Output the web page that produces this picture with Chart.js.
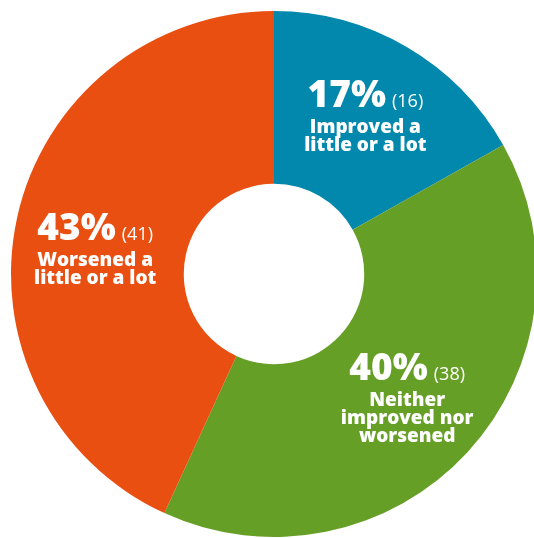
<!DOCTYPE html>
<html>
<head>
<meta charset="utf-8">
<script src="https://cdn.jsdelivr.net/npm/chart.js@4"></script>
<style>
  html, body { margin: 0; padding: 0; background: #fff; overflow: hidden; }
  .wrap { position: absolute; left: 0; top: 0; width: 548px; height: 548px; }
</style>
</head>
<body>
<div class="wrap"><canvas id="ring"></canvas></div>
<script>
// survey answers (respondent counts)
const categories = ['Improved a little or a lot', 'Neither improved nor worsened', 'Worsened a little or a lot'];
const counts = [16, 38, 41];
const percents = ['17%', '40%', '43%'];
const captions = [
    ['Improved a', 'little or a lot'],
    ['Neither', 'improved nor', 'worsened'],
    ['Worsened a', 'little or a lot']
];
const colors = ['#0287ad', '#669f26', '#e84f11'];

const FONT = '"Open Sans", "DejaVu Sans", sans-serif';

// writes the percentage, count and caption inside each slice
const sliceLabels = {
    id: 'sliceLabels',
    afterDatasetsDraw(chart, args, opts) {
        const ctx = chart.ctx;
        const meta = chart.getDatasetMeta(0);
        meta.data.forEach((arc, i) => {
            const mid = (arc.startAngle + arc.endAngle) / 2;
            const nudge = opts.nudge[i] || [0, 0];
            const cx = arc.x + Math.cos(mid) * opts.distance + nudge[0];
            const cy = arc.y + Math.sin(mid) * opts.distance + nudge[1];
            const lines = captions[i];
            const blockH = opts.bigCap + opts.firstGap + (lines.length - 1) * opts.lineGap;
            const bigBase = cy - blockH / 2 + opts.bigCap;

            ctx.save();
            ctx.fillStyle = '#fff';
            ctx.textBaseline = 'alphabetic';

            const big = percents[i];
            const small = '(' + counts[i] + ')';
            const bigFont = '800 37px ' + FONT;
            const smallFont = '400 18px ' + FONT;
            ctx.font = bigFont;
            const wBig = ctx.measureText(big).width;
            ctx.font = smallFont;
            const wSmall = ctx.measureText(small).width;
            const gap = 6;
            const left = cx - (wBig + gap + wSmall) / 2;

            ctx.textAlign = 'left';
            ctx.font = bigFont;
            ctx.fillText(big, left, bigBase);
            ctx.font = smallFont;
            ctx.fillText(small, left + wBig + gap, bigBase);

            ctx.textAlign = 'center';
            ctx.font = '800 19px ' + FONT;
            lines.forEach((t, k) => {
                ctx.fillText(t, cx, bigBase + opts.firstGap + k * opts.lineGap);
            });
            ctx.restore();
        });
    }
};

new Chart(document.getElementById('ring'), {
    type: 'doughnut',
    data: {
        labels: categories,
        datasets: [{
            data: counts,
            backgroundColor: colors,
            borderWidth: 0
        }]
    },
    options: {
        responsive: true,
        maintainAspectRatio: false,
        animation: false,
        radius: 263,
        cutout: 94,
        layout: { padding: 0 },
        plugins: {
            legend: { display: false },
            tooltip: { enabled: false },
            sliceLabels: {
                distance: 181,
                bigCap: 28,
                firstGap: 26,
                lineGap: 18,
                nudge: [[0, -3], [0, 0], [-2, 13]]
            }
        }
    },
    plugins: [sliceLabels]
});
</script>
</body>
</html>
